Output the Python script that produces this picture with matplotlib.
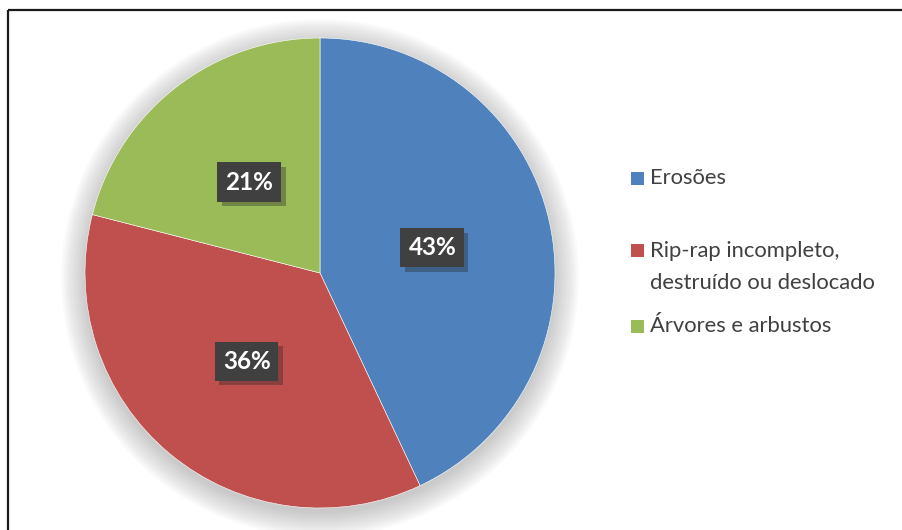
import matplotlib.pyplot as plt
from matplotlib.patches import Circle, Rectangle
from matplotlib import patheffects as pe

# chart data
categories = ['Erosões', 'Rip-rap incompleto,\ndestruído ou deslocado', 'Árvores e arbustos']
values = [43, 36, 21]
colors = ['#4F81BD', '#C0504D', '#9BBB59']

plt.rcParams['font.family'] = ['Lato', 'DejaVu Sans']
plt.rcParams['hatch.color'] = '#595959'
plt.rcParams['hatch.linewidth'] = 1.5

W, H = 902, 530
fig = plt.figure(figsize=(W / 100, H / 100), dpi=100)
ax = fig.add_axes([0, 0, 1, 1])

cx, cy, r = 320, H - 273, 235

# soft glow under the pie
for i in range(16):
    ax.add_patch(Circle((cx, cy - 5), r + 24 - i * 1.6, facecolor='#7f7f7f',
                        edgecolor='none', alpha=0.028, zorder=1))

wedges, texts, autotexts = ax.pie(
    values, colors=colors, startangle=90, counterclock=False,
    center=(cx, cy), radius=r, autopct='%d%%', pctdistance=0.49,
    wedgeprops=dict(edgecolor='white', linewidth=0.4),
    textprops=dict(color='white', fontsize=17.5, fontweight='bold'),
    frame=True)
ax.set_xlim(0, W)
ax.set_ylim(0, H)
ax.axis('off')

for w in wedges:
    w.set_zorder(2)
for t in autotexts:
    t.set_zorder(5)
    t.set_bbox(dict(boxstyle='square,pad=0.33', facecolor='#404040',
                    edgecolor='none', hatch='.'))
    t.get_bbox_patch().set_path_effects(
        [pe.SimplePatchShadow(offset=(3, -3), shadow_rgbFace='#202020', alpha=0.35),
         pe.Normal()])

# legend on the right
legend_y = [178, 250, 326]
for lab, col, y in zip(categories, colors, legend_y):
    ax.add_patch(Rectangle((631, H - y - 6.5), 13, 13, facecolor=col,
                           edgecolor='none', zorder=3))
    multi = '\n' in lab
    ax.text(650, H - y + (9 if multi else 0), lab, fontsize=15.8, color='#404040',
            va='top' if multi else 'center', ha='left', linespacing=1.75,
            zorder=3)

# chart frame
ax.plot([7.5, W], [H - 9.5, H - 9.5], color='#1a1a1a', lw=1.6, zorder=6,
        solid_capstyle='butt')
ax.plot([7.5, 7.5], [H - 9.5, 0], color='#1a1a1a', lw=1.6, zorder=6,
        solid_capstyle='butt')

fig.savefig('out.png', dpi=100)
